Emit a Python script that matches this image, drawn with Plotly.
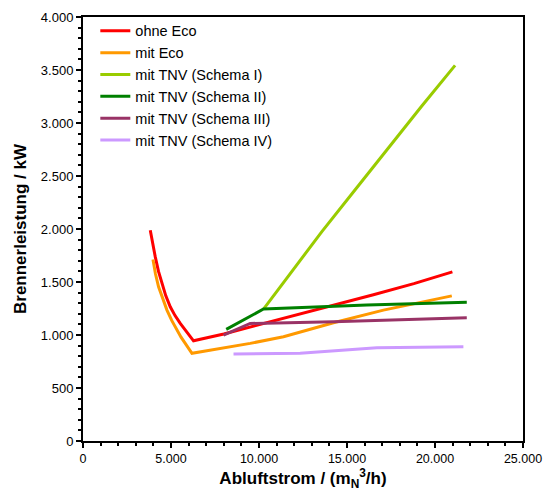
import plotly.graph_objects as go

# Brennerleistung über Abluftstrom für verschiedene Anlagenvarianten
ohne_eco_x = [3822, 3950, 4106, 4290, 4486, 4700, 4957, 5230, 5525, 5900, 6280,
              8000, 10640, 13500, 16500, 18800, 20988]
ohne_eco_y = [1989, 1860, 1737, 1600, 1486, 1372, 1266, 1183, 1109, 1022, 945,
              1010, 1124, 1250, 1380, 1485, 1596]

mit_eco_x = [3975, 4120, 4293, 4520, 4770, 5040, 5338, 5570, 5809, 6190,
             9500, 11392, 14231, 17070, 20954]
mit_eco_y = [1712, 1575, 1454, 1340, 1235, 1138, 1046, 980, 921, 827,
             921, 983, 1115, 1235, 1369]

tnv1_x = [10256, 11675, 13572, 15463, 17354, 19250, 21141]
tnv1_y = [1245, 1560, 1975, 2370, 2770, 3160, 3544]

tnv2_x = [8138, 10256, 16127, 21806]
tnv2_y = [1053, 1245, 1282, 1310]

tnv3_x = [7984, 9500, 14231, 21806]
tnv3_y = [999, 1109, 1124, 1162]

tnv4_x = [8552, 12339, 16695, 21613]
tnv4_y = [820, 827, 880, 889]

series = [
    ("ohne Eco", ohne_eco_x, ohne_eco_y, "#FF0000"),
    ("mit Eco", mit_eco_x, mit_eco_y, "#FF9900"),
    ("mit TNV (Schema I)", tnv1_x, tnv1_y, "#99CC00"),
    ("mit TNV (Schema II)", tnv2_x, tnv2_y, "#008000"),
    ("mit TNV (Schema III)", tnv3_x, tnv3_y, "#993366"),
    ("mit TNV (Schema IV)", tnv4_x, tnv4_y, "#CC99FF"),
]

fig = go.Figure()
for name, xs, ys, color in series:
    fig.add_trace(go.Scatter(
        x=xs, y=ys, name=name, mode="lines",
        line=dict(color=color, width=3),
    ))

font_family = "Liberation Sans, Arial, sans-serif"

fig.update_layout(
    width=545, height=491,
    margin=dict(l=83, r=22, t=17, b=50),
    paper_bgcolor="white", plot_bgcolor="white",
    separators=",.",
    font=dict(family=font_family, size=12, color="black"),
    showlegend=True,
    legend=dict(
        x=0.028, y=1.005, xanchor="left", yanchor="top",
        bgcolor="rgba(0,0,0,0)", borderwidth=0,
        font=dict(size=14.5, family=font_family),
        tracegroupgap=0,
    ),
)

axis_common = dict(
    showgrid=False, zeroline=False, automargin=False,
    showline=True, linecolor="black", linewidth=2, mirror=True,
    ticks="outside", ticklen=5, tickwidth=2, tickcolor="black",
    tickformat=",d", tickmode="linear", tick0=0,
)

fig.update_xaxes(
    range=[0, 25000], dtick=5000, ticklabelstandoff=0,
    tickfont=dict(size=12.5),
    minor=dict(dtick=1000, ticks="outside", ticklen=3, tickwidth=2, tickcolor="black"),
    title=dict(text="<b>Abluftstrom / (m<sub>N</sub><sup>3</sup>/h)</b>",
               font=dict(size=17), standoff=7),
    **axis_common,
)
fig.update_yaxes(
    range=[0, 4000], dtick=500,
    tickfont=dict(size=13),
    minor=dict(dtick=100, ticks="outside", ticklen=3, tickwidth=2, tickcolor="black"),
    title=dict(text="<b>Brennerleistung / kW</b>", font=dict(size=17), standoff=10),
    **axis_common,
)

fig.write_html("out.html")
